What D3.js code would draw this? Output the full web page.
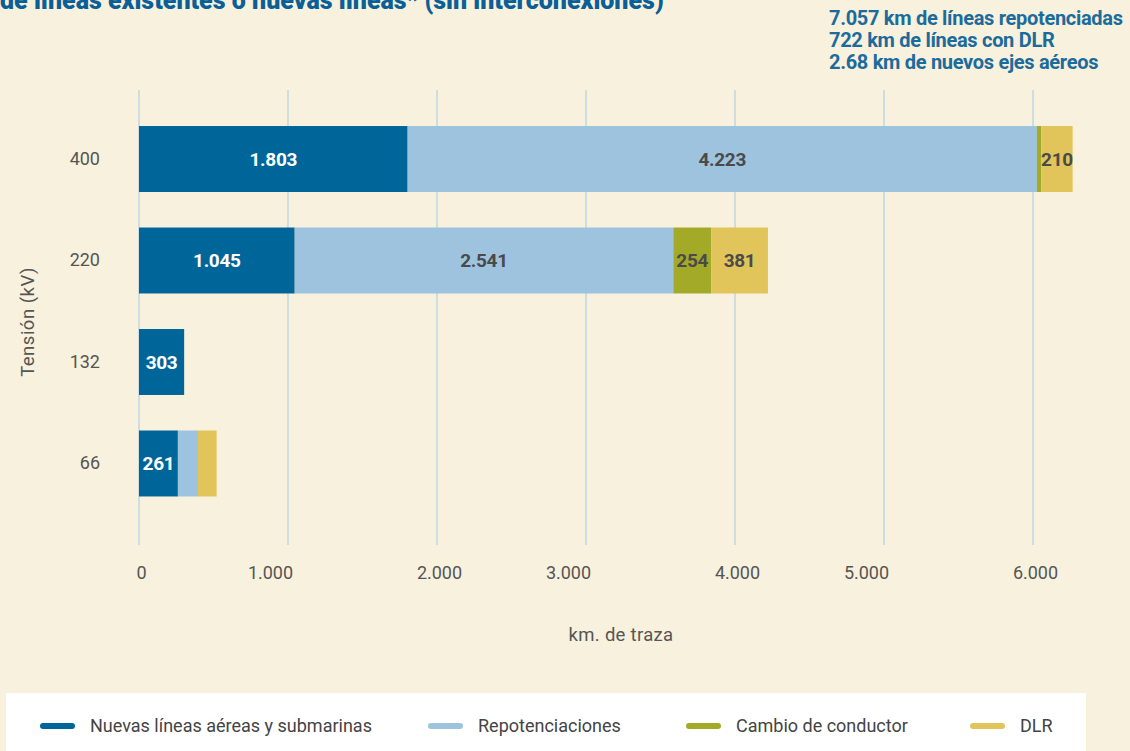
<!DOCTYPE html>
<html>
<head>
<meta charset="utf-8">
<script src="https://cdn.jsdelivr.net/npm/d3@7"></script>
<style>
  html, body { margin: 0; padding: 0; background: #f8f1dd; }
  svg { display: block; font-family: Roboto, "Noto Sans", sans-serif; }
</style>
</head>
<body>
<svg id="chart" width="1130" height="751"></svg>
<script>
// Voltage levels (kV), top to bottom
const voltages = ["400", "220", "132", "66"];

// Series (km of route) per voltage level
const seriesNames = ["Nuevas líneas aéreas y submarinas", "Repotenciaciones", "Cambio de conductor", "DLR"];
const nuevasLineas    = [1803, 1045, 303, 261];
const repotenciacion  = [4223, 2541, 0, 135];
const cambioConductor = [30, 254, 0, 0];
const dlr             = [210, 381, 0, 125];

// Which segments carry a value label (row = voltage, column = series)
const showLabel = [
  [true, true, false, true],
  [true, true, true, true],
  [true, false, false, false],
  [true, false, false, false]
];

const xTicks = [0, 1000, 2000, 3000, 4000, 5000, 6000];
const summaryLines = [
  "7.057 km de líneas repotenciadas",
  "722 km de líneas con DLR",
  "2.68 km de nuevos ejes aéreos"
];
const titleText = "de líneas existentes o nuevas líneas* (sin interconexiones)";

const colors = ["#00669a", "#9dc3de", "#a3aa27", "#e1c45a"];
const labelColors = ["#ffffff", "#4a4a4a", "#4a4a4a", "#4a4a4a"];

const svg = d3.select("#chart");
const W = 1130, H = 751;

svg.append("rect").attr("width", W).attr("height", H).attr("fill", "#f8f1dd");

// Spanish number formatting: thousands with "."
const fmt = v => d3.format(",")(v).replace(/,/g, ".");

const x = d3.scaleLinear().domain([0, 6000]).range([139, 1033]);
const y = d3.scaleBand().domain(voltages).range([90.5, 532]).padding(0.35);

// Title (partially above the top edge)
svg.append("text")
  .attr("x", 0).attr("y", 9)
  .attr("fill", "#0a6096")
  .attr("font-size", 25).attr("font-weight", 900)
  .text(titleText);

// Summary text, top right
svg.append("g").selectAll("text").data(summaryLines).join("text")
  .attr("x", 829).attr("y", (d, i) => 25 + i * 22)
  .attr("fill", "#1b6b9c")
  .attr("font-size", 20).attr("font-weight", 700)
  .attr("letter-spacing", -0.3)
  .text(d => d);

// Vertical grid lines
svg.append("g").selectAll("line").data(xTicks).join("line")
  .attr("x1", d => x(d)).attr("x2", d => x(d))
  .attr("y1", 90).attr("y2", 545)
  .attr("stroke", "#a6c9e3").attr("stroke-width", 1);

// Stack the series
const rows = voltages.map((v, i) => ({
  v,
  vals: [nuevasLineas[i], repotenciacion[i], cambioConductor[i], dlr[i]]
}));
const keys = [0, 1, 2, 3];
const stack = d3.stack().keys(keys).value((d, k) => d.vals[k]);
const stacked = stack(rows);

const gBars = svg.append("g");
stacked.forEach((layer, k) => {
  gBars.append("g").attr("fill", colors[k])
    .selectAll("rect").data(layer.filter(d => d[1] > d[0])).join("rect")
    .attr("x", d => x(d[0]))
    .attr("width", d => x(d[1]) - x(d[0]))
    .attr("y", d => y(d.data.v))
    .attr("height", y.bandwidth());
});

// Value labels
stacked.forEach((layer, k) => {
  gBars.append("g").selectAll("text")
    .data(layer.map((d, i) => ({ d, i })).filter(o => o.d[1] > o.d[0] && showLabel[o.i][k]))
    .join("text")
    .attr("x", o => (x(o.d[0]) + x(o.d[1])) / 2)
    .attr("y", o => y(o.d.data.v) + y.bandwidth() / 2)
    .attr("dy", "0.36em")
    .attr("text-anchor", "middle")
    .attr("fill", labelColors[k])
    .attr("font-size", 19).attr("font-weight", 700)
    .attr("letter-spacing", -0.3)
    .text(o => fmt(o.d.data.vals[k]));
});

// X axis tick labels
const xAxis = d3.axisBottom(x).tickValues(xTicks).tickSize(0).tickPadding(0).tickFormat(fmt);
const gx = svg.append("g").attr("transform", "translate(0,566)").call(xAxis);
gx.select(".domain").remove();
gx.selectAll("text")
  .attr("font-family", "Roboto, sans-serif")
  .attr("font-size", 18).attr("fill", "#555")
  .attr("dy", "0.71em")
  .attr("dx", d => (d / 1000) % 2 === 1 ? -18 : 2);

// Y axis labels
const yAxis = d3.axisLeft(y).tickSize(0).tickPadding(0);
const gy = svg.append("g").attr("transform", "translate(100,0)").call(yAxis);
gy.select(".domain").remove();
gy.selectAll("text")
  .attr("font-family", "Roboto, sans-serif")
  .attr("font-size", 18).attr("fill", "#555");

// Axis titles
svg.append("text")
  .attr("x", 621).attr("y", 641)
  .attr("text-anchor", "middle")
  .attr("font-size", 18.5).attr("fill", "#555")
  .attr("letter-spacing", 0.3)
  .text("km. de traza");

svg.append("text")
  .attr("transform", "translate(34,322) rotate(-90)")
  .attr("text-anchor", "middle")
  .attr("font-size", 18.5).attr("fill", "#555")
  .attr("letter-spacing", 0.5)
  .text("Tensión (kV)");

// Legend
svg.append("rect").attr("x", 6).attr("y", 693).attr("width", 1080).attr("height", 70).attr("fill", "#ffffff");
const legendX = [40, 428, 686, 970];
const lg = svg.append("g").selectAll("g").data(seriesNames).join("g")
  .attr("transform", (d, i) => `translate(${legendX[i]},726)`);
lg.append("line")
  .attr("x1", 3).attr("x2", 32).attr("y1", 0).attr("y2", 0)
  .attr("stroke", (d, i) => colors[i]).attr("stroke-width", 6).attr("stroke-linecap", "round");
lg.append("text")
  .attr("x", 50).attr("dy", "0.35em")
  .attr("font-size", 18).attr("fill", "#444")
  .text(d => d);
</script>
</body>
</html>
